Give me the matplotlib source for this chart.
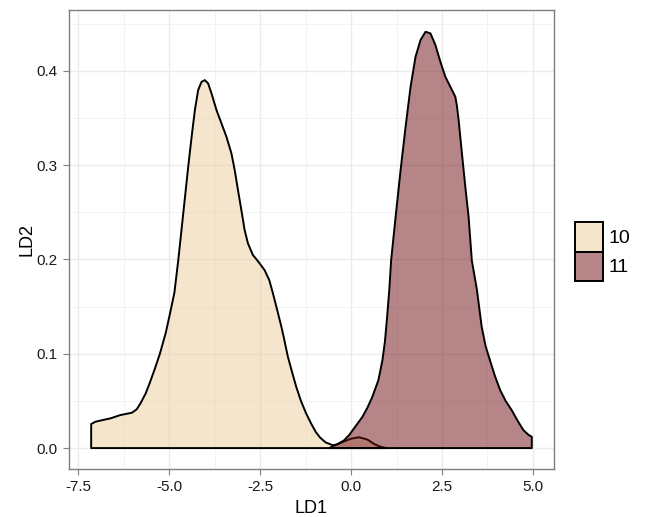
import matplotlib
matplotlib.use("Agg")
import matplotlib.pyplot as plt
from matplotlib.patches import Patch
import numpy as np

plt.rcParams["font.family"] = ["Liberation Sans", "DejaVu Sans"]

# density estimates, one array pair per group
groups = ["10", "11"]

ld1_10 = [-7.15, -7.03, -6.80, -6.62, -6.35, -6.03, -5.90, -5.80, -5.65, -5.53, -5.40,
          -5.26, -5.10, -4.98, -4.86, -4.754, -4.617, -4.481, -4.387, -4.297, -4.207,
          -4.114, -4.023, -3.933, -3.840, -3.703, -3.566, -3.429, -3.292, -3.202,
          -3.112, -3.019, -2.929, -2.838, -2.701, -2.60, -2.518, -2.381, -2.25,
          -2.15, -2.05, -1.92, -1.85, -1.74, -1.62, -1.51, -1.38, -1.24, -1.10,
          -0.97, -0.85, -0.70, -0.50, -0.38, -0.20, 0.00, 0.22, 0.45, 0.65, 0.80, 0.97]
dens_10 = [0.0255, 0.028, 0.030, 0.0315, 0.035, 0.0375, 0.041, 0.047, 0.058, 0.070, 0.084,
           0.100, 0.122, 0.143, 0.165, 0.1994, 0.2489, 0.2983, 0.3301, 0.3585, 0.3797,
           0.3884, 0.3902, 0.3867, 0.3761, 0.3584, 0.3443, 0.3301, 0.3125, 0.2948,
           0.2736, 0.2524, 0.2312, 0.2171, 0.2047, 0.200, 0.1959, 0.1888, 0.178,
           0.164, 0.149, 0.129, 0.117, 0.097, 0.080, 0.065, 0.050, 0.037, 0.026,
           0.017, 0.011, 0.006, 0.003, 0.004, 0.007, 0.010, 0.0115, 0.009, 0.004, 0.0015, 0.0]

ld1_11 = [-0.60, -0.50, -0.38, -0.20, -0.05, 0.10, 0.31, 0.45, 0.58, 0.75, 0.86, 0.93,
          0.99, 1.05, 1.10, 1.224, 1.361, 1.498, 1.635, 1.772, 1.909, 2.046, 2.182,
          2.319, 2.456, 2.593, 2.730, 2.867, 2.91, 2.957, 3.048, 3.141, 3.231, 3.32, 3.46,
          3.59, 3.70, 3.82, 3.96, 4.10, 4.25, 4.42, 4.58, 4.74, 4.88, 4.97]
dens_11 = [0.0, 0.002, 0.004, 0.008, 0.014, 0.022, 0.033, 0.043, 0.054, 0.072, 0.093, 0.113,
           0.139, 0.168, 0.199, 0.2453, 0.2948, 0.3407, 0.3831, 0.4150, 0.4327, 0.4415, 0.4398,
           0.4274, 0.4096, 0.3937, 0.3831, 0.3725, 0.363, 0.3478, 0.3125, 0.2771, 0.2453, 0.199,
           0.168, 0.129, 0.108, 0.093, 0.076, 0.0615, 0.050, 0.040, 0.029, 0.019, 0.014, 0.012]

fills = [(235/255, 205/255, 155/255, 0.5), (109/255, 13/255, 17/255, 0.5)]

fig = plt.figure(figsize=(6.49, 5.17), dpi=100)
ax = fig.add_axes([0.1063, 0.0928, 0.7473, 0.8879])

for xs, ys, fc in [(ld1_10, dens_10, fills[0]), (ld1_11, dens_11, fills[1])]:
    xs = np.asarray(xs)
    ys = np.asarray(ys)
    px = np.concatenate([[xs[0]], xs, [xs[-1]]])
    py = np.concatenate([[0.0], ys, [0.0]])
    ax.fill(px, py, facecolor=fc, edgecolor="black", linewidth=1.4,
            joinstyle="round", zorder=3)

ax.set_xlim(-7.76, 5.58)
ax.set_ylim(-0.0222, 0.4646)
ax.set_xticks([-7.5, -5.0, -2.5, 0.0, 2.5, 5.0])
ax.set_xticklabels(["-7.5", "-5.0", "-2.5", "0.0", "2.5", "5.0"])
ax.set_yticks([0.0, 0.1, 0.2, 0.3, 0.4])
ax.set_yticklabels(["0.0", "0.1", "0.2", "0.3", "0.4"])
ax.set_xticks([-6.25, -3.75, -1.25, 1.25, 3.75], minor=True)
ax.set_yticks([0.05, 0.15, 0.25, 0.35, 0.45], minor=True)

ax.grid(True, which="major", color="#EBEBEB", linewidth=1.0, zorder=0)
ax.grid(True, which="minor", color="#F3F3F3", linewidth=0.7, zorder=0)
ax.set_axisbelow(True)
ax.tick_params(which="major", length=4, width=0.8, color="#7F7F7F",
               labelsize=11, labelcolor="#1A1A1A", pad=4)
ax.tick_params(which="minor", length=0)
for s in ax.spines.values():
    s.set_color("#7F7F7F")
    s.set_linewidth(1.0)

ax.set_xlabel("LD1", fontsize=13, labelpad=4)
ax.set_ylabel("LD2", fontsize=13, labelpad=1)

handles = [Patch(facecolor=fills[i], edgecolor="black", linewidth=1.4, label=g)
           for i, g in enumerate(groups)]
fig.legend(handles=handles, loc="center left", bbox_to_anchor=(0.874, 0.5135),
           frameon=False, fontsize=14, handlelength=1.44, handleheight=1.92,
           handletextpad=0.3, labelspacing=0.0, borderaxespad=0)

fig.savefig("out.png", dpi=100)
